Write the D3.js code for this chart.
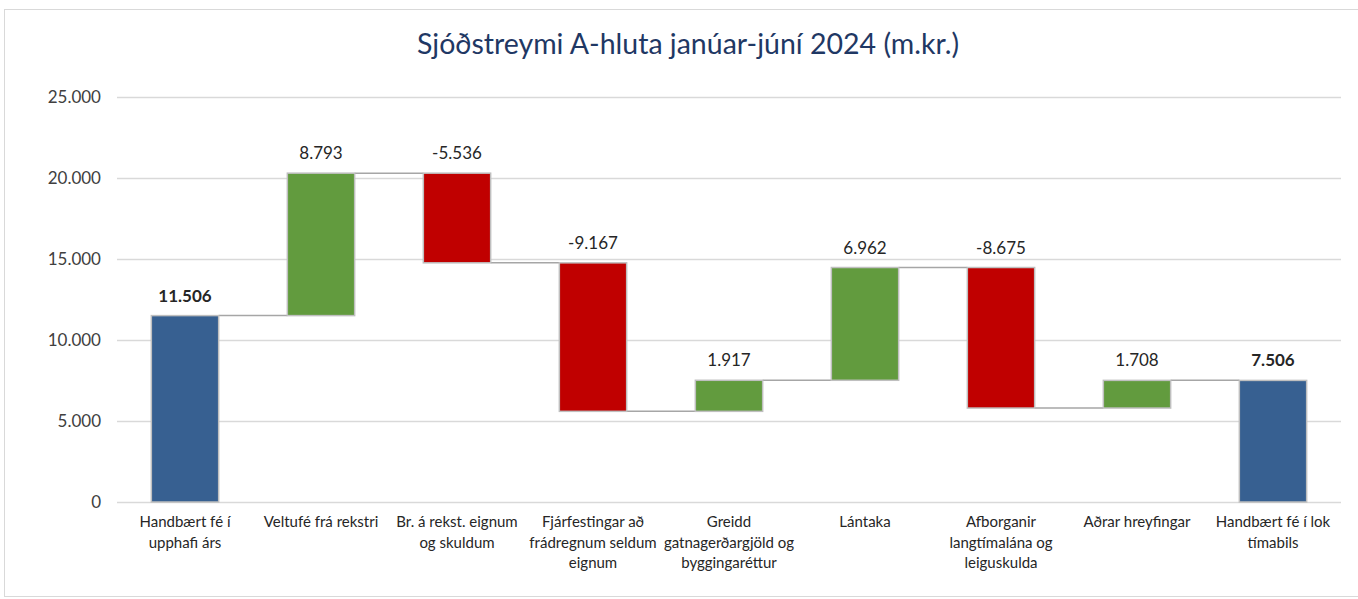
<!DOCTYPE html>
<html>
<head>
<meta charset="utf-8">
<script src="https://cdn.jsdelivr.net/npm/d3@7"></script>
<style>
  body { margin: 0; background: #fff; }
  svg { font-family: Lato, Carlito, "Open Sans", sans-serif; }
</style>
</head>
<body>
<div id="graph-area"></div>
<script>
// categories (line-wrapped as in the original)
var categories = [
    ["Handbært fé í", "upphafi árs"],
    ["Veltufé frá rekstri"],
    ["Br. á rekst. eignum", "og skuldum"],
    ["Fjárfestingar að", "frádregnum seldum", "eignum"],
    ["Greidd", "gatnagerðargjöld og", "byggingaréttur"],
    ["Lántaka"],
    ["Afborganir", "langtímalána og", "leiguskulda"],
    ["Aðrar hreyfingar"],
    ["Handbært fé í lok", "tímabils"]
];
var values = [11506, 8793, -5536, -9167, 1917, 6962, -8675, 1708, 7506];
var isTotal = [true, false, false, false, false, false, false, false, true];
var yTicks = [0, 5000, 10000, 15000, 20000, 25000];

var width = 1358, height = 599,
    margin = {top: 97, bottom: 97, left: 117, right: 17};

var svg = d3.select("#graph-area").append("svg")
    .attr("width", width)
    .attr("height", height);

// chart frame
svg.append("rect")
    .attr("x", 4.5).attr("y", 9.5)
    .attr("width", width - 2).attr("height", height - 12)
    .attr("fill", "none")
    .attr("stroke", "#d9d9d9");

svg.append("text")
    .attr("x", 688).attr("y", 54)
    .attr("text-anchor", "middle")
    .attr("font-size", "28.5px")
    .attr("fill", "#1f3864")
    .text("Sjóðstreymi A-hluta janúar-júní 2024 (m.kr.)");

var x = d3.scaleBand()
    .domain(d3.range(values.length))
    .range([margin.left, width - margin.right])
    .paddingInner(0.505)
    .paddingOuter(0.2525);

var y = d3.scaleLinear()
    .domain([0, 25000])
    .range([502, 97]);

var fmt = function(v) {
    return d3.format(",")(v).replace(/,/g, ".").replace("−", "-");
};

// gridlines + y labels
var yAxis = svg.append("g")
    .attr("transform", "translate(" + margin.left + ",0)")
    .call(d3.axisLeft(y).tickValues(yTicks).tickSize(-(width - margin.right - margin.left)).tickFormat(fmt).tickPadding(16));
yAxis.select(".domain").remove();
yAxis.selectAll(".tick line").attr("stroke", "#d9d9d9").attr("stroke-width", 1.3);
yAxis.selectAll(".tick text").attr("font-size", "17px").attr("fill", "#404040")
    .attr("font-family", "Lato, Carlito, sans-serif");

// running totals
var steps = [];
var run = 0;
values.forEach(function(v, i) {
    var s;
    if (isTotal[i]) { s = {start: 0, end: v}; run = v; }
    else { s = {start: run, end: run + v}; run = run + v; }
    s.i = i; s.v = v;
    steps.push(s);
});

// connectors
steps.forEach(function(s, i) {
    if (i == steps.length - 1) return;
    svg.append("line")
        .attr("x1", x(i) + x.bandwidth())
        .attr("x2", x(i + 1))
        .attr("y1", y(s.end))
        .attr("y2", y(s.end))
        .attr("stroke", "#a6a6a6")
        .attr("stroke-width", 1.5);
});

var color = function(s) {
    if (isTotal[s.i]) return "#376091";
    return s.v >= 0 ? "#629b3e" : "#c00000";
};

svg.selectAll(".bar")
    .data(steps)
    .enter().append("rect")
    .attr("class", "bar")
    .attr("x", function(d) { return x(d.i); })
    .attr("width", x.bandwidth())
    .attr("y", function(d) { return y(Math.max(d.start, d.end)); })
    .attr("height", function(d) { return Math.abs(y(d.start) - y(d.end)); })
    .attr("fill", color)
    .attr("stroke", "#bfbfbf")
    .attr("stroke-width", 1.5);

// value labels
svg.selectAll(".val")
    .data(steps)
    .enter().append("text")
    .attr("class", "val")
    .attr("x", function(d) { return x(d.i) + x.bandwidth() / 2; })
    .attr("y", function(d) { return y(Math.max(d.start, d.end)) - 14; })
    .attr("text-anchor", "middle")
    .attr("font-size", "17px")
    .attr("font-weight", function(d) { return isTotal[d.i] ? "bold" : "normal"; })
    .attr("fill", "#262626")
    .text(function(d) { return fmt(d.v); });

// category labels
var cat = svg.selectAll(".cat")
    .data(categories)
    .enter().append("text")
    .attr("class", "cat")
    .attr("text-anchor", "middle")
    .attr("font-size", "15px")
    .attr("fill", "#262626")
    .attr("transform", function(d, i) {
        return "translate(" + (x(i) + x.bandwidth() / 2) + ",527)";
    });
cat.selectAll("tspan")
    .data(function(d) { return d; })
    .enter().append("tspan")
    .attr("x", 0)
    .attr("dy", function(d, j) { return j == 0 ? 0 : 20.5; })
    .text(function(d) { return d; });
</script>
</body>
</html>
